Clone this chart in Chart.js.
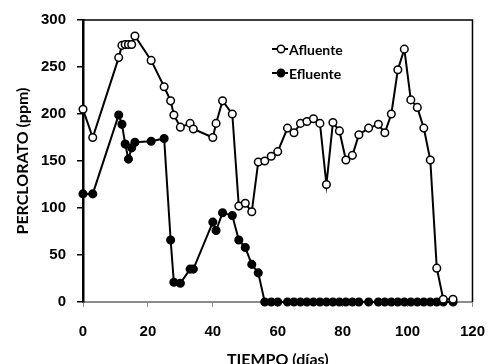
<!DOCTYPE html>
<html>
<head>
<meta charset="utf-8">
<script src="https://cdn.jsdelivr.net/npm/chart.js@4.4.1/dist/chart.umd.min.js"></script>
<style>
  html, body { margin: 0; padding: 0; background: #fff; }
  #wrap { width: 501px; height: 364px; }
</style>
</head>
<body>
<div id="wrap"><canvas id="percloratoChart"></canvas></div>
<script>
// días de muestreo
const dias = [0, 3, 11, 12, 13, 14, 15, 16, 21, 25,
  27, 28, 30, 33, 34, 40, 41, 43, 46, 48,
  50, 52, 54, 56, 58, 60, 63, 65, 67, 69,
  71, 73, 75, 77, 79, 81, 83, 85, 88, 91,
  93, 95, 97, 99, 101, 103, 105, 107, 109, 111,
  114];

// perclorato (ppm)
const afluente = [205, 175, 260, 273, 274, 274, 274, 283, 257, 229,
  214, 199, 186, 190, 184, 175, 190, 214, 200, 102,
  105, 96, 149, 150, 155, 160, 185, 180, 190, 192,
  195, 190, 125, 191, 182, 151, 156, 178, 185, 189,
  180, 200, 247, 269, 215, 207, 185, 151, 36, 3,
  3];
const efluente = [115, 115, 199, 189, 168, 152, 164, 170, 171, 174,
  66, 21, 20, 35, 35, 85, 76, 95, 92, 66,
  58, 40, 31, 0, 0, 0, 0, 0, 0, 0,
  0, 0, 0, 0, 0, 0, 0, 0, 0, 0,
  0, 0, 0, 0, 0, 0, 0, 0, 0, 0,
  0];

const xTicks = [0, 20, 40, 60, 80, 100, 120];
const yTicks = [0, 50, 100, 150, 200, 250, 300];
const seriesNames = ["Afluente", "Efluente"];

const toPoints = vals => dias.map((d, i) => ({ x: d, y: vals[i] }));

const tickFont = { family: "'Liberation Sans', Arial, sans-serif", size: 15, weight: "bold" };

// marco superior y derecho
const framePlugin = {
  id: "frame",
  beforeDatasetsDraw(chart) {
    const { ctx, chartArea: a } = chart;
    ctx.save();
    ctx.strokeStyle = "#000";
    ctx.lineWidth = 1.5;
    ctx.beginPath();
    ctx.moveTo(a.left, a.top);
    ctx.lineTo(a.right, a.top);
    ctx.lineTo(a.right, a.bottom);
    ctx.stroke();
    ctx.restore();
  }
};

// leyenda dentro del gráfico
const legendPlugin = {
  id: "insideLegend",
  afterDraw(chart) {
    const { ctx, chartArea: a } = chart;
    const x0 = a.left + 189, y0 = a.top + 29, gap = 24;
    ctx.save();
    chart.data.datasets.forEach((ds, i) => {
      const y = y0 + i * gap;
      ctx.strokeStyle = "#000";
      ctx.lineWidth = 2;
      ctx.beginPath();
      ctx.moveTo(x0, y);
      ctx.lineTo(x0 + 16, y);
      ctx.stroke();
      ctx.lineWidth = 1.5;
      ctx.beginPath();
      ctx.arc(x0 + 9, y, 3.7, 0, Math.PI * 2);
      ctx.fillStyle = ds.pointBackgroundColor;
      ctx.fill();
      ctx.stroke();
      ctx.fillStyle = "#000";
      ctx.font = "bold 14px Lato, 'Open Sans', sans-serif";
      ctx.textBaseline = "middle";
      ctx.fillText(ds.label, x0 + 17, y + 1);
    });
    ctx.restore();
  }
};

new Chart(document.getElementById("percloratoChart"), {
  type: "scatter",
  data: {
    datasets: [
      {
        label: seriesNames[0],
        data: toPoints(afluente),
        showLine: true,
        borderColor: "#000",
        borderWidth: 2,
        pointBackgroundColor: "#fff",
        pointBorderColor: "#000",
        pointBorderWidth: 1.5,
        pointRadius: 3.8,
        clip: false
      },
      {
        label: seriesNames[1],
        data: toPoints(efluente),
        showLine: true,
        borderColor: "#000",
        borderWidth: 2,
        pointBackgroundColor: "#000",
        pointBorderColor: "#000",
        pointBorderWidth: 1.5,
        pointRadius: 3.8,
        clip: false
      }
    ]
  },
  options: {
    responsive: true,
    maintainAspectRatio: false,
    animation: false,
    layout: { padding: { top: 17, right: 13, left: 0, bottom: 0 } },
    plugins: {
      legend: { display: false },
      tooltip: { enabled: false }
    },
    scales: {
      x: {
        type: "linear",
        min: 0,
        max: 120,
        afterBuildTicks: s => { s.ticks = xTicks.map(v => ({ value: v })); },
        afterFit: s => { s.height = 62; },
        ticks: { font: tickFont, color: "#000", padding: 16, maxRotation: 0 },
        grid: { drawOnChartArea: false, drawTicks: true, tickLength: 5, color: "#8c8c8c", lineWidth: 1 },
        border: { color: "#8c8c8c", width: 2 },
        title: {
          display: true,
          text: "TIEMPO (días)",
          font: { family: "Lato, 'Open Sans', sans-serif", size: 16, weight: "bold" },
          color: "#000",
          padding: { top: 0, bottom: -5 }
        }
      },
      y: {
        min: 0,
        max: 300,
        afterBuildTicks: s => { s.ticks = yTicks.map(v => ({ value: v })); },
        afterFit: s => { s.width = 83; },
        ticks: { font: tickFont, color: "#000", padding: 11 },
        grid: { drawOnChartArea: false, drawTicks: true, tickLength: 6, color: "#000", lineWidth: 1.5 },
        border: { color: "#000", width: 2.5 },
        title: {
          display: true,
          text: "PERCLORATO (ppm)",
          font: { family: "Lato, 'Open Sans', sans-serif", size: 16, weight: "bold" },
          color: "#000",
          padding: { top: 13, bottom: 0 }
        }
      }
    }
  },
  plugins: [framePlugin, legendPlugin]
});
</script>
</body>
</html>
